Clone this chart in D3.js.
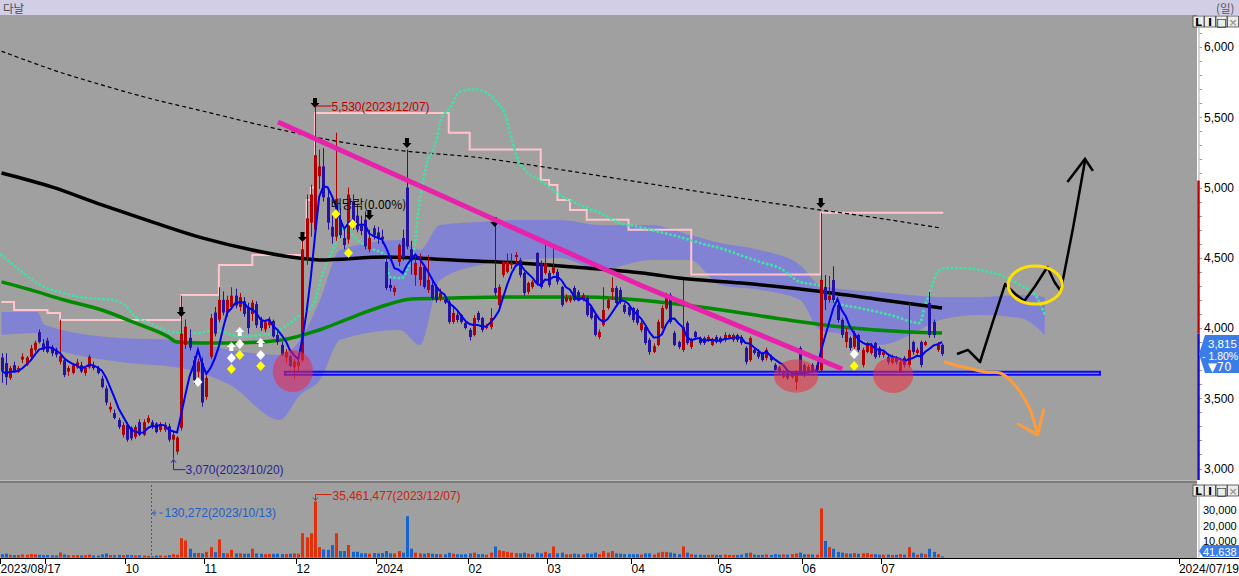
<!DOCTYPE html>
<html><head><meta charset="utf-8">
<script src="https://cdn.jsdelivr.net/npm/d3@7/dist/d3.min.js"></script>
<style>
html,body{margin:0;padding:0;background:#fff;overflow:hidden}
svg{display:block;font-family:"Liberation Sans",Arial,sans-serif}
</style></head>
<body>
<svg id="chart" width="1239" height="576"></svg>
<script>
// ================= DATA =================
const stockName = "다날";
const periodLabel = "(일)";
const open = [3790,3750,3645,3735,3690,3775,3740,3795,3845,3970,
3890,3910,3865,3845,3760,3770,3690,3680,3720,3735,
3680,3720,3735,3715,3640,3570,3420,3395,3345,3240,
3310,3290,3225,3330,3240,3330,3330,3320,3275,3275,
3300,3205,3120,3290,3880,3930,3770,3690,3750,3510,
3795,4110,4060,4200,4110,4150,4230,4150,4190,4150,
4100,4170,4050,3990,4020,4050,3950,3880,3790,3800,
3720,3730,3770,4500,4750,4700,5080,5150,4930,4720,
4650,4770,4640,4630,4900,4800,4730,4770,4560,4710,
4680,4650,4470,4306,4256,4470,4640,5000,4560,4377,
4342,4434,4271,4306,4292,4214,4200,4185,4043,4093,
4093,4036,3986,3950,4107,4071,4000,4007,4285,4164,
4377,4400,4450,4505,4484,4392,4256,4292,4534,4463,
4392,4392,4392,4400,4292,4190,4195,4285,4256,4199,
4214,4150,4093,3936,4021,4142,4256,4285,4270,4164,
4150,4142,4128,3986,4007,3915,3830,3879,4000,4140,
4235,3965,3900,3844,4036,3865,3972,3929,3929,3915,
3879,3936,3929,3915,3930,3915,3950,3936,3858,3772,
3844,3830,3822,3787,3794,3737,3720,3651,3680,3651,
3615,3858,3737,3687,3737,3701,3700,4292,4200,4342,
4164,4057,3900,3929,3865,3950,3737,3829,3822,3893,
3858,3808,3794,3751,3794,3687,3787,3737,3900,3822,
3900,3879,4178,4043,3844,3880];
const high = [3820,3820,3730,3760,3730,3820,3800,3880,3910,3990,
3920,3930,3880,3860,4060,3790,3730,3750,3780,3760,
3730,3810,3760,3730,3660,3590,3470,3420,3360,3330,
3330,3300,3310,3350,3350,3380,3345,3330,3330,3330,
3320,3260,3230,4230,4060,3990,3800,3780,3790,3660,
4100,4150,4290,4260,4230,4290,4280,4250,4220,4180,
4200,4190,4080,4060,4080,4060,3990,3900,3850,3810,
3780,3800,4650,4950,5020,5530,5270,5280,5000,4800,
5390,4850,4700,5000,4950,4880,4800,4830,4700,4730,
4720,4700,4500,4350,4300,4600,4700,5270,4620,4530,
4530,4450,4520,4330,4310,4280,4215,4200,4150,4110,
4100,4050,4000,4090,4120,4080,4030,4140,4760,4310,
4480,4530,4530,4540,4500,4400,4330,4340,4540,4480,
4590,4410,4577,4420,4300,4240,4230,4300,4270,4250,
4230,4160,4100,3990,4290,4210,4360,4300,4290,4180,
4160,4150,4140,4050,4020,3930,3890,4060,4160,4250,
4250,3980,3910,4342,4050,3930,3980,3940,3940,3950,
3930,3950,3940,3970,3960,3960,3960,3950,3870,3940,
3860,3850,3830,3860,3810,3750,3730,3700,3690,3690,
3700,3870,3750,3740,3750,3750,4820,4377,4370,4440,
4180,4070,4000,3940,3980,3960,3860,3900,3890,3900,
3870,3840,3810,3810,3800,3770,3800,4178,3910,3860,
3910,3910,4256,4060,3900,3890];
const low = [3610,3595,3630,3680,3680,3750,3730,3780,3830,3890,
3830,3820,3800,3790,3740,3650,3660,3670,3710,3680,
3660,3710,3700,3670,3570,3450,3400,3350,3280,3220,
3190,3200,3210,3230,3230,3320,3280,3250,3260,3260,
3190,3070,3100,3270,3850,3840,3600,3640,3440,3490,
3780,3940,4040,4090,4080,4130,4140,4120,4080,3960,
4050,4000,3980,3970,4000,3930,3880,3800,3750,3720,
3640,3700,3760,4450,4650,4650,4990,4900,4700,4600,
4620,4640,4560,4600,4700,4680,4660,4560,4540,4630,
4600,4600,4270,4260,4230,4440,4480,4560,4380,4300,
4300,4280,4250,4200,4180,4190,4170,4030,4030,4040,
4030,3990,3910,3940,4040,3970,3990,3990,4230,4150,
4360,4390,4420,4460,4360,4230,4240,4280,4300,4280,
4380,4290,4380,4310,4150,4180,4180,4190,4190,4190,
4080,4060,3940,3920,4010,4130,4200,4170,4170,4100,
4080,4040,4020,3970,3880,3810,3820,3870,3990,4130,
4030,3870,3850,3830,3880,3850,3920,3880,3880,3900,
3870,3890,3890,3900,3920,3900,3900,3880,3740,3760,
3810,3780,3760,3770,3760,3690,3670,3640,3630,3640,
3560,3670,3650,3670,3680,3690,3690,4128,4180,4180,
4040,3930,3860,3840,3850,3830,3720,3820,3810,3780,
3790,3790,3740,3740,3740,3680,3720,3720,3810,3810,
3720,3870,3930,3930,3830,3800];
const close = [3700,3650,3715,3690,3715,3795,3790,3855,3895,3900,
3845,3830,3820,3810,3800,3665,3715,3735,3755,3690,
3715,3795,3715,3680,3580,3470,3440,3360,3295,3310,
3205,3215,3295,3240,3330,3360,3295,3260,3310,3310,
3205,3240,3220,3960,4010,3860,3630,3760,3470,3645,
4070,3960,4200,4110,4200,4230,4160,4220,4100,4000,
4180,4020,4000,4040,4060,3940,3900,3810,3830,3730,
3760,3760,4560,4780,4950,5230,5150,4930,4750,4650,
4880,4660,4590,4950,4750,4700,4690,4580,4640,4660,
4640,4630,4285,4285,4285,4590,4505,4580,4480,4463,
4434,4292,4342,4214,4199,4249,4180,4043,4107,4057,
4043,4000,3936,4071,4057,3986,4014,4071,4250,4292,
4470,4470,4463,4520,4377,4249,4320,4328,4320,4292,
4463,4306,4434,4330,4164,4220,4215,4199,4199,4235,
4093,4071,3950,3972,4128,4199,4285,4178,4185,4114,
4093,4057,4036,4036,3893,3829,3870,4043,4142,4230,
4043,3879,3865,4007,3893,3915,3936,3893,3893,3936,
3922,3900,3900,3950,3950,3950,3915,3893,3758,3929,
3822,3795,3772,3844,3772,3701,3687,3687,3644,3680,
3687,3687,3666,3723,3687,3737,4342,4199,4230,4199,
4057,3950,3972,3858,3965,3844,3844,3893,3879,3794,
3808,3829,3758,3794,3758,3758,3737,3844,3829,3844,
3737,3900,3950,3950,3885,3815];
// volume, thousands of shares
const volume = [1500,1800,1100,900,1000,1300,1200,1600,1400,1100,
900,1000,800,700,2600,1300,900,800,900,700,
800,1200,700,600,1400,1900,900,800,1000,900,
1100,800,700,800,600,500,130,600,700,500,
900,1500,1200,11800,10300,5000,2200,2300,2000,3000,
6000,2800,11000,2200,2000,4300,2000,2000,1800,1800,
5000,2000,1800,1500,1700,1700,1800,1600,1600,1800,
2000,1800,15000,12400,15000,35461,6000,4500,4300,7400,
15000,3500,3500,7400,3000,3000,2000,2000,1800,2200,
2000,2200,3500,2000,2000,3500,2500,26000,5000,2500,
2000,1800,2200,1800,1600,1500,1400,2400,1800,1500,
1400,1500,2000,2500,1500,1500,1200,2500,6500,4000,
3500,3000,2500,2200,2000,2500,1800,1500,2500,2000,
3000,2000,6500,2000,2500,1500,1500,1800,1500,1300,
2000,1800,2500,1500,3500,2500,3500,2000,1800,1500,
1500,1500,1500,1300,2000,2000,1300,2500,3000,3000,
2500,2000,1500,6500,2500,1500,1200,1200,1000,1000,
1200,1000,1000,1200,1000,1000,1000,1200,2200,2500,
1200,1000,1100,1300,1000,1500,1200,1300,1200,1500,
2000,2500,1500,1400,1300,1200,31000,10000,6000,5000,
3000,2500,2000,1800,2200,1800,2000,2200,1500,1500,
1200,1200,1200,1000,1100,1500,1200,6000,2500,1200,
2000,1500,5000,3000,1500,42];

const tickIdx = [0,11,30,49,71,90,112,131,151,172,192,211];
const tickLabels = ["2023/08/17","","10","11","12","2024","02","03","04","05","06","07"];
const lastDateLabel = "2024/07/19";
const priceTicks = [3000,3500,4000,4500,5000,5500,6000];
const volTicks = [10000,20000,30000];

// long dashed moving average
const maLongIdx = [0,5,14,24,36,48,67,81,95,115,131,148,167,191,208,225];
const maLongVal = [5970,5915,5820,5730,5630,5545,5410,5325,5265,5210,5140,5060,4970,4860,4790,4710];
// black moving average
const ma120Idx = [0,12,24,36,48,60,71,76,92,108,124,140,155,162,177,193,209,225];
const ma120Val = [5103,5004,4876,4755,4641,4555,4498,4484,4505,4484,4463,4427,4385,4356,4320,4271,4207,4142];
// green moving average
const ma60Idx = [0,7,15,24,32,40,42,48,55,67,76,84,92,98,108,124,140,155,169,185,201,217,225];
const ma60Val = [4328,4271,4199,4128,4036,3936,3900,3893,3893,3915,3986,4078,4164,4207,4214,4221,4221,4192,4142,4071,4007,3972,3965];
// mint dotted line
const mintIdx = [0,4.4,9.2,14,18.8,23.6,26.7,30,31.5,35.5,37.9,41,44.4,47.5,50.6,57,64.2,69,71.4,74.5,76.9,79.8,82.2,84.6,88.2,91.7,92.9,95.8,97.7,98.9,99.6,100.8,101.8,103,104.2,104.9,106.3,107.8,109,110.9,113.3,115.7,118,120.5,122.1,123.6,125.2,128.8,133.6,138.4,143.2,148,152.7,157.5,162.3,167.1,171.9,176.7,181.5,186.2,191,195.1,196.5,200.1,205.4,212.6,219.7,220.9,222.1,222.8,224,225.7,229.3,234.1,238.9,243.7,247.3,249.6];
const mintVal = [4520,4413,4306,4256,4221,4207,4199,4150,4093,4036,4000,3972,3965,3965,3986,3943,3957,4036,4093,4164,4392,4591,4719,4641,4569,4520,4363,4356,4470,4591,4804,5032,5174,5253,5352,5459,5537,5587,5666,5694,5701,5680,5623,5516,5338,5196,5125,5053,4947,4876,4819,4747,4719,4683,4648,4605,4569,4520,4470,4427,4328,4306,4292,4178,4142,4093,4036,4164,4256,4320,4399,4427,4427,4413,4377,4306,4235,4093];
// pink step line (highest high)
const pinkIdx = [0,3,11,14,43,52,60,72,73,74,75,107,112,129,131,133,136,140,150,165,196,225.3];
const pinkVal = [4185,4128,4107,4057,4235,4449,4520,4660,4911,5000,5530,5390,5270,5053,5018,4911,4840,4770,4700,4380,4820,4820];
// cloud
const cloudIdx = [0,8.5,10.4,28.4,42.7,54.7,66.6,71.4,76.2,81,95.3,100.1,104.9,114.5,124,133.6,143.2,155.1,164.7,171.9,181.5,191,195.8,203,210.2,217.4,224.5,234.1,243.7,249.6];
const cloudTop = [4114,4114,4021,3929,3915,3844,3808,3915,4199,4555,4626,4555,4733,4755,4769,4769,4733,4733,4662,4605,4555,4449,4306,4271,4256,4235,4221,4221,4235,4221];
const cloudBot = [3950,3965,3879,3758,3715,3594,3345,3523,3630,3915,3986,3879,4342,4449,4484,4498,4413,4484,4484,4306,4271,4199,3986,3950,3879,3950,4057,4093,4071,3950];

// markers & signals
const arrowIdx = [43,72,75,88,97,118,196];
const arrowTip = [4078,4612,5566,4769,5281,4719,4854];
const sigIdx = [55,55,55,57,57,57,62,62,62,47,80,84,83,204,204];
const sigVal = [3865,3787,3708,3972,3886,3808,3893,3808,3730,3616,4811,4740,4534,3815,3730];
const sigType = ["wu","wd","yd","wu","wd","yd","wu","wd","yd","wd","yd","yd","yd","wd","yd"];

// texts
const highLabel = "5,530(2023/12/07)";
const lowLabel = "3,070(2023/10/20)";
const exDivLabel = "배당락(0.00%)";
const volMaxLabel = "35,461,477(2023/12/07)";
const volMinLabel = "130,272(2023/10/13)";
const volMinIdx = 36;
const curPrice = "3,815", curChg = "- 1.80%", curDiff = "▼70", curVol = "41,638";

// hand-drawn annotations (data coords)
const trendIdx = [66.15,152.75,201.1];
const trendVal = [5466,4306,3708];
const supportIdx = [67.8,262.8];
const supportVal = [3689,3668];
const blobIdx = [69.7,190.1,213.3];
const blobVal = [3694,3658,3665];
const blobRx = [4.8,5.3,4.8];
const blobRy = [150,118,128];
const orangeIdx = [225.7,228.1,231.2,235.3,238.9,241.3,243.7,246.1,247.7];
const orangeVal = [3758,3737,3715,3687,3680,3630,3545,3417,3260];
const orangeHeadIdx = [243.2,247.9,249.3];
const orangeHeadVal = [3317,3239,3417];
const blackIdx = [228.6,231.2,234.1,237.0,240.1,242.5,244.7,247.3,250.2,251.9,253.4,256.3,259.2];
const blackVal = [3815,3844,3758,4029,4313,4242,4192,4299,4434,4327,4263,4705,5189];
const blackHeadIdx = [255.0,259.2,261.1];
const blackHeadVal = [5039,5203,5118];
const ringIdx = 247.3, ringVal = 4306;

// ================= DRAW =================
const W = 1239, H = 576, PR = 1197;
const svg = d3.select('#chart');
const x = d3.scaleLinear().domain([0, 286]).range([1.5, 1197]);
const y = d3.scaleLinear().domain([3000, 6000]).range([468.5, 47]);
const yv = d3.scaleLinear().domain([0, 30000]).range([556.5, 510]);
const fmt = d3.format(',');
const N = close.length;
const bars = d3.range(N).map(i => ({i, o: open[i], h: high[i], l: low[i], c: close[i], v: volume[i]}));
const upCol = '#b00000', dnCol = '#2512a0';

svg.append('rect').attr('width', W).attr('height', H).attr('fill', '#fff');
// header
svg.append('rect').attr('x', 0).attr('y', 0).attr('width', W).attr('height', 15).attr('fill', '#d2cee6');
svg.append('text').attr('x', 3).attr('y', 12.5).attr('font-family', '"Noto Sans CJK KR"').attr('font-size', 11.5).attr('fill', '#4a4a4a').text(stockName);
svg.append('text').attr('x', 1216).attr('y', 12.5).attr('font-family', '"Noto Sans CJK KR"').attr('font-size', 11.5).attr('fill', '#555').text(periodLabel);

// panels
svg.append('rect').attr('x', 0).attr('y', 15).attr('width', PR).attr('height', 465).attr('fill', '#a0a0a0');
svg.append('rect').attr('x', 0).attr('y', 480).attr('width', PR).attr('height', 1).attr('fill', '#b8b8b8');
svg.append('rect').attr('x', 0).attr('y', 481).attr('width', PR).attr('height', 2).attr('fill', '#7c7c7c');
svg.append('rect').attr('x', 0).attr('y', 483).attr('width', PR).attr('height', 75).attr('fill', '#a0a0a0');

const defs = svg.append('defs');
defs.append('clipPath').attr('id', 'cm').append('rect').attr('x', 0).attr('y', 15).attr('width', PR).attr('height', 465);
defs.append('clipPath').attr('id', 'cv').append('rect').attr('x', 0).attr('y', 483).attr('width', PR).attr('height', 75);

const gm = svg.append('g').attr('clip-path', 'url(#cm)');
const zip = (a, b) => a.map((d, k) => [d, b[k]]);
const line = d3.line().x(d => x(d[0])).y(d => y(d[1]));

// cloud
gm.append('path').datum(d3.range(cloudIdx.length))
  .attr('d', d3.area().x(k => x(cloudIdx[k])).y0(k => y(cloudBot[k])).y1(k => y(cloudTop[k])).curve(d3.curveMonotoneX))
  .attr('fill', '#8282d4');
// pink
gm.append('path').datum(zip(pinkIdx, pinkVal)).attr('d', line.curve(d3.curveStepAfter))
  .attr('fill', 'none').attr('stroke', '#ffc4cc').attr('stroke-width', 2);
// long dashed MA
gm.append('path').datum(zip(maLongIdx, maLongVal)).attr('d', line.curve(d3.curveMonotoneX))
  .attr('fill', 'none').attr('stroke', '#000').attr('stroke-width', 1.2).attr('stroke-dasharray', '4,3');
// mint dots
gm.append('path').datum(zip(mintIdx, mintVal)).attr('d', line.curve(d3.curveMonotoneX))
  .attr('fill', 'none').attr('stroke', '#3fe3a2').attr('stroke-width', 3).attr('stroke-linecap', 'round').attr('stroke-dasharray', '0,4.4');
// green MA
gm.append('path').datum(zip(ma60Idx, ma60Val)).attr('d', line.curve(d3.curveMonotoneX))
  .attr('fill', 'none').attr('stroke', '#008a00').attr('stroke-width', 3.5);
// black MA
gm.append('path').datum(zip(ma120Idx, ma120Val)).attr('d', line.curve(d3.curveMonotoneX))
  .attr('fill', 'none').attr('stroke', '#000').attr('stroke-width', 3.5);

// candles
const cx = i => Math.round(x(i));
const gc = gm.append('g');
gc.selectAll('line').data(bars).join('line')
  .attr('x1', d => cx(d.i) + 0.5).attr('x2', d => cx(d.i) + 0.5)
  .attr('y1', d => y(d.h)).attr('y2', d => y(d.l))
  .attr('stroke', d => d.c >= d.o ? upCol : dnCol).attr('stroke-width', 1);
gc.selectAll('rect').data(bars).join('rect')
  .attr('x', d => cx(d.i) - 1).attr('width', 3)
  .attr('y', d => y(Math.max(d.o, d.c)))
  .attr('height', d => Math.max(1, Math.abs(y(d.o) - y(d.c))))
  .attr('fill', d => d.c >= d.o ? upCol : dnCol);

// 5-day MA (computed)
const ma5 = bars.map(d => [d.i, d3.mean(close.slice(Math.max(0, d.i - 4), d.i + 1))]);
gm.append('path').datum(ma5).attr('d', line.curve(d3.curveLinear))
  .attr('fill', 'none').attr('stroke', '#0000f4').attr('stroke-width', 2);

// signals
sigIdx.forEach((si, k) => {
  const px = x(si), py = y(sigVal[k]);
  if (sigType[k] === 'wu') {
    gm.append('path').attr('d', `M${px},${py-5}L${px+4.5},${py}L${px+2},${py}L${px+2},${py+4}L${px-2},${py+4}L${px-2},${py}L${px-4.5},${py}Z`).attr('fill', '#fff');
  } else {
    gm.append('path').attr('d', `M${px},${py-5}L${px+4.5},${py}L${px},${py+5}L${px-4.5},${py}Z`).attr('fill', sigType[k] === 'wd' ? '#fff' : '#ffff00');
  }
});
// black down-arrow markers
arrowIdx.forEach((ai, k) => {
  const px = x(ai), py = y(arrowTip[k]);
  gm.append('path').attr('d', `M${px-2},${py-10}L${px+2},${py-10}L${px+2},${py-5}L${px+4.5},${py-5}L${px},${py}L${px-4.5},${py-5}L${px-2},${py-5}Z`).attr('fill', '#000');
});

// high / low labels
const iMax = d3.maxIndex(high), iMin = d3.minIndex(low);
{
  const px = cx(iMax) + 0.5, py = y(high[iMax]);
  gm.append('path').attr('d', `M${px},${py}L${px},${py-7}L${px+16},${py-7}`).attr('fill', 'none').attr('stroke', '#c00000');
  gm.append('text').attr('x', px + 16).attr('y', py - 2.5).attr('font-size', 12).attr('fill', '#c00000').text(highLabel);
  const qx = cx(iMin) + 0.5, qy = y(low[iMin]);
  gm.append('path').attr('d', `M${qx-2.5},${qy+4}L${qx},${qy+1}L${qx+2.5},${qy+4}M${qx},${qy+1}L${qx},${qy+11}L${qx+12},${qy+11}`).attr('fill', 'none').attr('stroke', '#25259a');
  gm.append('text').attr('x', qx + 12).attr('y', qy + 15.5).attr('font-size', 12).attr('fill', '#25259a').text(lowLabel);
}
gm.append('text').attr('x', x(79) - 1).attr('y', y(4850)).attr('font-family', '"Noto Sans CJK KR"').attr('font-size', 12).attr('fill', '#000').text(exDivLabel);

// hand-drawn annotations
gm.append('path').datum(zip(supportIdx, supportVal)).attr('d', d => {
  const x0 = x(d[0][0]), x1 = x(d[1][0]), y0 = y(d[0][1]), y1 = y(d[1][1]);
  return `M${x0},${y0}H${x1}V${y1}H${x0}Z`;
}).attr('fill', 'none').attr('stroke', '#0a0aff').attr('stroke-width', 2);
blobIdx.forEach((bi, k) => {
  gm.append('ellipse').attr('cx', x(bi)).attr('cy', y(blobVal[k]))
    .attr('rx', x(blobRx[k]) - x(0))
    .attr('ry', Math.abs(y(3000) - y(3000 + blobRy[k])))
    .attr('fill', 'rgb(236,44,64)').attr('fill-opacity', 0.55);
});
gm.append('path').datum(zip(trendIdx, trendVal)).attr('d', line.curve(d3.curveLinear))
  .attr('fill', 'none').attr('stroke', '#e822aa').attr('stroke-width', 5);
gm.append('path').datum(zip(orangeIdx, orangeVal)).attr('d', line.curve(d3.curveCatmullRom))
  .attr('fill', 'none').attr('stroke', '#ff9c3a').attr('stroke-width', 3).attr('stroke-linecap', 'round');
gm.append('path').datum(zip(orangeHeadIdx, orangeHeadVal)).attr('d', line.curve(d3.curveLinear))
  .attr('fill', 'none').attr('stroke', '#ff9c3a').attr('stroke-width', 3).attr('stroke-linecap', 'round').attr('stroke-linejoin', 'round');
gm.append('path').datum(zip(blackIdx, blackVal)).attr('d', line.curve(d3.curveLinear))
  .attr('fill', 'none').attr('stroke', '#000').attr('stroke-width', 2.5).attr('stroke-linejoin', 'round');
gm.append('path').datum(zip(blackHeadIdx, blackHeadVal)).attr('d', line.curve(d3.curveLinear))
  .attr('fill', 'none').attr('stroke', '#000').attr('stroke-width', 2.5);
gm.append('ellipse').attr('cx', x(ringIdx)).attr('cy', y(ringVal)).attr('rx', 27).attr('ry', 19)
  .attr('fill', 'none').attr('stroke', '#ffe000').attr('stroke-width', 3);

// ---- volume panel ----
const gv = svg.append('g').attr('clip-path', 'url(#cv)');
gv.selectAll('rect').data(bars).join('rect')
  .attr('x', d => cx(d.i) - 1).attr('width', 3)
  .attr('y', d => yv(d.v)).attr('height', d => yv(0) - yv(d.v) + 1)
  .attr('fill', d => d.c >= d.o ? '#e0300c' : '#1565cc');
{
  const iv = d3.maxIndex(volume);
  const px = cx(iv) + 0.5, py = yv(volume[iv]);
  gv.append('path').attr('d', `M${px-2.5},${py-4}L${px},${py-1}L${px+2.5},${py-4}M${px},${py-1}L${px},${py-7}L${px+16},${py-7}`).attr('fill', 'none').attr('stroke', '#d02008');
  gv.append('text').attr('x', px + 17).attr('y', py - 2).attr('font-size', 12).attr('fill', '#d02008').text(volMaxLabel);
  const mx = cx(volMinIdx) - 0.5;
  gv.append('line').attr('x1', mx).attr('x2', mx).attr('y1', 485).attr('y2', 557).attr('stroke', '#1f5fc8').attr('stroke-dasharray', '2,2');
  gv.append('path').attr('d', `M${mx+4},${510}L${mx+1},${513}L${mx+4},${516}M${mx+1},${513}H${mx+5}M${mx+8},${513}H${mx+11}`).attr('fill', 'none').attr('stroke', '#1f5fc8');
  gv.append('text').attr('x', mx + 13).attr('y', 517).attr('font-size', 12).attr('fill', '#1f5fc8').text(volMinLabel);
}

// ---- right axes ----
const axG = svg.append('g').attr('transform', `translate(1199,0)`);
axG.call(d3.axisRight(y).tickValues(priceTicks).tickFormat(fmt).tickSize(0).tickPadding(5));
axG.select('.domain').remove();
axG.selectAll('text').attr('font-size', 12).attr('fill', '#000').attr('font-family', '"Liberation Sans",Arial,sans-serif');
const minor = d3.range(3000, 6300, 100).filter(v => y(v) > 28 && y(v) < 479);
svg.append('g').selectAll('line').data(minor).join('line')
  .attr('x1', 1199).attr('x2', 1202).attr('y1', v => Math.round(y(v)) + 0.5).attr('y2', v => Math.round(y(v)) + 0.5)
  .attr('stroke', '#999');
svg.append('line').attr('x1', 1199).attr('x2', 1199).attr('y1', 28).attr('y2', y(5050)).attr('stroke', '#c8c8c8').attr('stroke-width', 1.5);
svg.append('line').attr('x1', 1198.5).attr('x2', 1198.5).attr('y1', y(5050)).attr('y2', y(3960)).attr('stroke', '#c00000').attr('stroke-width', 2.5);
svg.append('line').attr('x1', 1198.5).attr('x2', 1198.5).attr('y1', y(3960)).attr('y2', 480).attr('stroke', '#1a08c0').attr('stroke-width', 2.5);

const avG = svg.append('g').attr('transform', `translate(1199,0)`);
avG.call(d3.axisRight(yv).tickValues(volTicks).tickFormat(fmt).tickSize(0).tickPadding(4));
avG.select('.domain').remove();
avG.selectAll('text').attr('font-size', 11).attr('fill', '#000').attr('font-family', '"Liberation Sans",Arial,sans-serif');
svg.append('line').attr('x1', 1199).attr('x2', 1199).attr('y1', 497).attr('y2', 557).attr('stroke', '#c8c8c8').attr('stroke-width', 1.5);

// current price box
{
  const py = y(3815);
  svg.append('path').attr('d', `M1199,${py}L1205,${py-19}H1239V${py+19}H1205Z`).attr('fill', '#3b7de8');
  svg.append('text').attr('x', 1208).attr('y', py - 6).attr('font-size', 11.5).attr('fill', '#fff').text(curPrice);
  svg.append('text').attr('x', 1202).attr('y', py + 6).attr('font-size', 10.5).attr('fill', '#fff').text(curChg);
  svg.append('text').attr('x', 1208).attr('y', py + 17.5).attr('font-size', 11.5).attr('fill', '#fff').attr('font-family', '"DejaVu Sans"').text(curDiff);
  const vy = 551;
  svg.append('path').attr('d', `M1199,${vy}L1203,${vy-6}H1239V${vy+6}H1203Z`).attr('fill', '#3b7de8');
  svg.append('text').attr('x', 1203).attr('y', vy + 4.5).attr('font-size', 11).attr('fill', '#fff').text(curVol);
}

// buttons
function buttons(y0) {
  const labels = ['L', 'I', '□', '×'];
  labels.forEach((t, k) => {
    const bx = 1193 + k * 11.5;
    svg.append('rect').attr('x', bx).attr('y', y0).attr('width', 11).attr('height', 11).attr('fill', '#ececec').attr('stroke', '#444').attr('stroke-width', 0.8);
    svg.append('text').attr('x', bx + 5.5).attr('y', y0 + 9.5).attr('text-anchor', 'middle').attr('font-size', 11).attr('font-weight', 'bold')
      .attr('font-family', '"DejaVu Sans"').attr('fill', k === 3 ? '#9a9a9a' : '#000').text(t);
  });
}
buttons(16);
buttons(485);

// ---- x axis ----
svg.append('rect').attr('x', 0).attr('y', 558).attr('width', W).attr('height', 18).attr('fill', '#fff');
svg.append('line').attr('x1', 0).attr('x2', W).attr('y1', 558.5).attr('y2', 558.5).attr('stroke', '#000');
const xg = svg.append('g');
tickIdx.forEach((ti, k) => {
  const tx = Math.round(x(ti)) - 2 + 0.5;
  xg.append('line').attr('x1', tx).attr('x2', tx).attr('y1', 559).attr('y2', 564).attr('stroke', '#000');
  xg.append('text').attr('x', tx).attr('y', 573).attr('font-size', 12).attr('fill', '#000').text(tickLabels[k]);
});
xg.append('line').attr('x1', 1179.5).attr('x2', 1179.5).attr('y1', 559).attr('y2', 564).attr('stroke', '#000');
xg.append('text').attr('x', 1239).attr('y', 573).attr('text-anchor', 'end').attr('font-size', 12).attr('fill', '#000').text(lastDateLabel);
</script>
</body></html>
